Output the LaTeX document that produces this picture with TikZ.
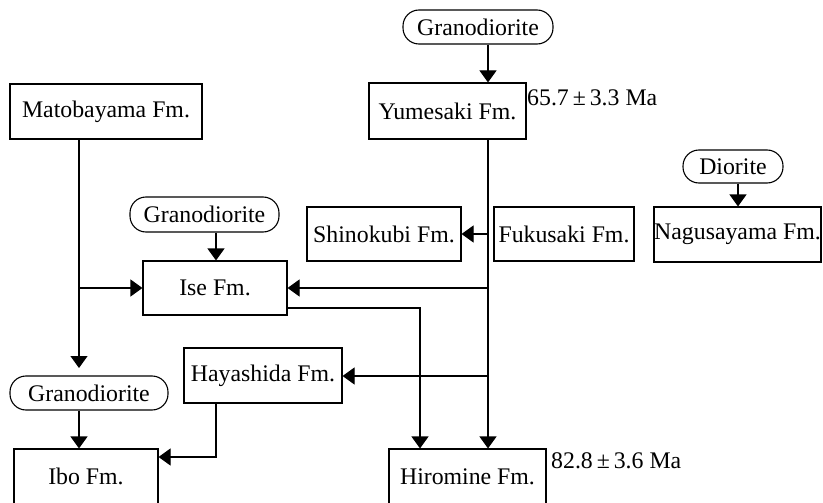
\documentclass[tikz,border=0pt]{standalone}
\usepackage{fontspec}
\setmainfont{Liberation Serif}
\usetikzlibrary{arrows.meta}
\begin{document}
\begin{tikzpicture}[x=1pt,y=-1pt,
  every node/.style={font=\fontsize{23.8}{27}\selectfont, inner sep=0pt},
  fm/.style={draw, line width=1.1pt, rectangle},
  rock/.style={draw, line width=1.1pt, rounded corners=16pt},
  link/.style={line width=1.1pt, -{Triangle[length=12pt,width=17pt]}},
  age/.style={anchor=west}]
\clip (0,0) rectangle (823,503);
\fill[white] (0,0) rectangle (823,503);

% formations
\node[fm, minimum width=192pt, minimum height=55pt] (mato) at (106,111.5) {Matobayama Fm.};
\node[fm, minimum width=157pt, minimum height=56pt] (yume) at (447.5,111) {Yumesaki Fm.};
\node[fm, minimum width=144pt, minimum height=54pt] (ise)  at (215,288) {Ise Fm.};
\node[fm, minimum width=158pt, minimum height=55pt] (haya) at (263,375.5) {Hayashida Fm.};
\node[fm, minimum width=144pt, minimum height=55pt] (ibo)  at (86,476.5) {Ibo Fm.};
\node[fm, minimum width=154pt, minimum height=54pt] (shin) at (384,234) {Shinokubi Fm.};
\node[fm, minimum width=140pt, minimum height=54pt] (fuku) at (564,234) {Fukusaki Fm.};
\node[fm, minimum width=167pt, minimum height=55pt] (nagu) at (737.5,234.5) {Nagusayama Fm.};
\node[fm, minimum width=157pt, minimum height=55pt] (hiro) at (467.5,476.5) {Hiromine Fm.};

% intrusions
\node[rock, minimum width=150pt, minimum height=34pt] (gY) at (478,27) {Granodiorite};
\node[rock, minimum width=149pt, minimum height=35pt] (gI) at (204.5,214.5) {Granodiorite};
\node[rock, minimum width=158pt, minimum height=34pt] (gB) at (89,393) {Granodiorite};
\node[rock, minimum width=100pt, minimum height=33pt] (dior) at (733,166.5) {Diorite};

% ages
\node[age] (ageY) at (527,98) {65.7\,±\,3.3 Ma};
\node[age] (ageH) at (551,461) {82.8\,±\,3.6 Ma};

% junction points
\coordinate (mY) at (79,288);
\coordinate (mEnd) at (79,368);
\coordinate (yS) at (488,234);
\coordinate (yI) at (488,288);
\coordinate (yH) at (488,376);
\coordinate (iR) at (420,308);
\coordinate (hB) at (216,457);

% intrusion arrows
\draw[link] (gY.south -| 488,0) -- (yume.north -| 488,0);
\draw[link] (dior.south -| 738,0) -- (nagu.north -| 738,0);
\draw[link] (gI.south -| 216,0) -- (ise.north -| 216,0);
\draw[link] (gB.south -| 79,0) -- (ibo.north -| 79,0);

% Matobayama branch
\draw[link] (mato.south -| 79,0) -- (mEnd);
\draw[link] (mY) -- (ise.west |- mY);

% Yumesaki trunk
\draw[link] (yume.south -| 488,0) -- (hiro.north -| 488,0);
\draw[link] (yS) -- (shin.east |- yS);
\draw[link] (yI) -- (ise.east |- yI);
\draw[link] (yH) -- (haya.east |- yH);

% Ise to Hiromine
\draw[link] (ise.east |- iR) -- (iR) -- (hiro.north -| iR);

% Hayashida to Ibo
\draw[link] (haya.south -| 216,0) -- (hB) -- (ibo.east |- hB);
\end{tikzpicture}
\end{document}
